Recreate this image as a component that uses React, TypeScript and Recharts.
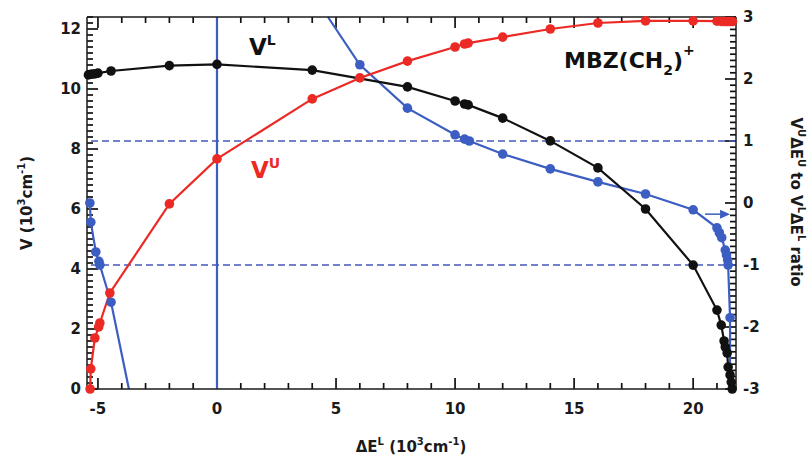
import React from "react";
import { ComposedChart, Line, XAxis, YAxis, ReferenceLine } from "recharts";

const BLACK = "#111111";
const RED = "#ec2a25";
const BLUE = "#3c5ec2";
const DASH = "#4458b8";
const AXIS = "#1a1a1a";
const FONT = "'DejaVu Sans', Verdana, sans-serif";

// V^L, black, left axis (10^3 cm^-1) against ΔE^L
const vlE = [-5.4, -5.3, -5.2, -5.1, -5.0, -4.45, -2, 0, 4, 8, 10, 10.4, 10.55, 12, 14, 16, 18, 20, 21.0, 21.18, 21.3, 21.35, 21.43, 21.47, 21.55, 21.6, 21.64];
const vlV = [10.47, 10.49, 10.5, 10.51, 10.53, 10.6, 10.78, 10.82, 10.63, 10.07, 9.6, 9.5, 9.47, 9.03, 8.27, 7.37, 6.0, 4.13, 2.63, 2.13, 1.6, 1.4, 1.2, 0.73, 0.47, 0.23, 0];

// V^U, red, left axis
const vuE = [-5.33, -5.3, -5.13, -4.97, -4.92, -4.5, -2, 0, 4, 6, 8, 10, 10.4, 10.55, 12, 14, 16, 18, 20, 21.0, 21.2, 21.35, 21.45, 21.55, 21.65];
const vuV = [0, 0.67, 1.7, 2.07, 2.2, 3.2, 6.17, 7.67, 9.67, 10.37, 10.93, 11.4, 11.5, 11.53, 11.73, 12.0, 12.2, 12.27, 12.27, 12.26, 12.25, 12.25, 12.25, 12.25, 12.25];

// ratio, blue, right axis. two branches; the last / first point is where the line leaves the frame
const ratioLoE = [-5.34, -5.3, -5.09, -4.96, -4.92, -4.45, -3.7];
const ratioLoR = [0.0, -0.31, -0.79, -0.94, -1.0, -1.6, -3];
const ratioHiE = [4.66, 6, 8, 10, 10.4, 10.6, 12, 14, 16, 18, 20, 21.0, 21.1, 21.2, 21.35, 21.4, 21.45, 21.47, 21.55, 21.55];
const ratioHiR = [3, 2.23, 1.53, 1.1, 1.03, 1.0, 0.79, 0.55, 0.34, 0.145, -0.11, -0.4, -0.48, -0.56, -0.76, -0.84, -0.92, -1.0, -1.85, -3];

const xMajor = [-5, 0, 5, 10, 15, 20];
const leftMajor = [0, 2, 4, 6, 8, 10, 12];
const rightMajor = [-3, -2, -1, 0, 1, 2, 3];

const range = (a: number, b: number, step: number) => {
  const out: number[] = [];
  for (let i = 0; a + i * step <= b + 1e-9; i++) out.push(Math.round((a + i * step) * 100) / 100);
  return out;
};
const xMinor = range(-5, 21, 1);
const leftMinor = range(0, 12.4, 0.2);
const rightMinor = range(-3, 3, 0.1);

const pts = (xs: number[], ys: number[], edges: number[] = []) =>
  xs.map((x, i) => ({ x, y: ys[i], edge: edges.includes(i) }));

const vlData = pts(vlE, vlV);
const vuData = pts(vuE, vuV);
const ratioLo = pts(ratioLoE, ratioLoR, [ratioLoE.length - 1]);
const ratioHi = pts(ratioHiE, ratioHiR, [0, ratioHiE.length - 1]);

const dot = (color: string) => (p: any) =>
  p.payload.edge ? (
    <g key={`e${p.index}`} />
  ) : (
    <circle key={`d${p.index}`} cx={p.cx} cy={p.cy} r={4.8} fill={color} />
  );

const W = 812;
const H = 457;
const M = { top: 17, right: 76, bottom: 68, left: 87 };
const X_DOMAIN: [number, number] = [-5.46, 21.8];
const L_DOMAIN: [number, number] = [0, 12.4];
const R_DOMAIN: [number, number] = [-3, 3];
// data units per pixel, used to give the inward tick marks a pixel length
const perPxX = (X_DOMAIN[1] - X_DOMAIN[0]) / (W - M.left - M.right);
const perPxL = (L_DOMAIN[1] - L_DOMAIN[0]) / (H - M.top - M.bottom);
const MAJ = 11;
const MIN = 6;

const label = { fontFamily: FONT, fontWeight: 700, fontSize: 15, fill: AXIS };
const axisStroke = { stroke: AXIS, strokeWidth: 1.5 };

const BottomLabel = (p: any) => (
  <text x={p.x} y={p.y + 25} textAnchor="middle" {...label}>
    {p.payload.value}
  </text>
);
const LeftLabel = (p: any) => (
  <text x={p.x - 6} y={p.y} dy="0.36em" textAnchor="end" {...label}>
    {p.payload.value}
  </text>
);
const RightLabel = (p: any) => (
  <text x={p.x + 7} y={p.y} dy="0.36em" textAnchor="start" {...label}>
    {p.payload.value}
  </text>
);

const Arrow = (p: any) => {
  const { x1, y1, x2, y2 } = p;
  return (
    <g>
      <line x1={x1} y1={y1} x2={x2 - 8} y2={y2} stroke={BLUE} strokeWidth={1.5} />
      <polygon points={`${x2},${y2} ${x2 - 10},${y2 - 4.5} ${x2 - 10},${y2 + 4.5}`} fill={BLUE} />
    </g>
  );
};

const tickMark = (key: string, yAxisId: string, a: { x: number; y: number }, b: { x: number; y: number }) => (
  <ReferenceLine key={key} xAxisId="b" yAxisId={yAxisId} segment={[a, b]} ifOverflow="visible" stroke="#111" strokeWidth={1.7} />
);

const App: React.FC = () => {
  const [x0, x1] = X_DOMAIN;
  const [l0, l1] = L_DOMAIN;
  return (
    <div style={{ position: "absolute", left: 0, top: 0, width: W, height: H, background: "#fff" }}>
      <ComposedChart width={W} height={H} margin={{ top: 0, right: 0, bottom: 0, left: 0 }}>
        <XAxis xAxisId="b" type="number" dataKey="x" domain={X_DOMAIN} ticks={xMajor} interval={0} height={M.bottom}
          tickSize={0} tickMargin={0} tickLine={false} axisLine={axisStroke} tick={BottomLabel} />
        <XAxis xAxisId="t" orientation="top" type="number" dataKey="x" domain={X_DOMAIN} ticks={xMajor} interval={0} height={M.top}
          tickSize={0} tickLine={false} axisLine={axisStroke} tick={false} />
        <YAxis yAxisId="l" type="number" domain={L_DOMAIN} ticks={leftMajor} interval={0} width={M.left}
          tickSize={0} tickMargin={0} tickLine={false} axisLine={axisStroke} tick={LeftLabel} />
        <YAxis yAxisId="r" orientation="right" type="number" domain={R_DOMAIN} ticks={rightMajor} interval={0} width={M.right}
          tickSize={0} tickMargin={0} tickLine={false} axisLine={axisStroke} tick={RightLabel} />

        {/* inward tick marks on all four sides */}
        {xMinor.map((v) => {
          const len = (xMajor.includes(v) ? MAJ : MIN) * perPxL;
          return [
            tickMark(`b${v}`, "l", { x: v, y: l0 }, { x: v, y: l0 + len }),
            tickMark(`t${v}`, "l", { x: v, y: l1 }, { x: v, y: l1 - len }),
          ];
        })}
        {leftMinor.map((v) =>
          tickMark(`l${v}`, "l", { x: x0, y: v }, { x: x0 + (leftMajor.includes(v) ? MAJ : MIN) * perPxX, y: v })
        )}
        {rightMinor.map((v) =>
          tickMark(`r${v}`, "r", { x: x1, y: v }, { x: x1 - (rightMajor.includes(v) ? MAJ : MIN) * perPxX, y: v })
        )}

        <ReferenceLine xAxisId="b" yAxisId="r" y={1} stroke={DASH} strokeWidth={1.3} strokeDasharray="7 4" />
        <ReferenceLine xAxisId="b" yAxisId="r" y={-1} stroke={DASH} strokeWidth={1.3} strokeDasharray="7 4" />
        <ReferenceLine xAxisId="b" yAxisId="l" x={0} stroke={BLUE} strokeWidth={2.2} />

        <Line xAxisId="b" yAxisId="r" data={ratioLo} dataKey="y" type="linear" stroke={BLUE} strokeWidth={2.2} dot={dot(BLUE)} activeDot={false} isAnimationActive={false} />
        <Line xAxisId="b" yAxisId="r" data={ratioHi} dataKey="y" type="linear" stroke={BLUE} strokeWidth={2.2} dot={dot(BLUE)} activeDot={false} isAnimationActive={false} />
        <Line xAxisId="b" yAxisId="l" data={vuData} dataKey="y" type="linear" stroke={RED} strokeWidth={2.2} dot={dot(RED)} activeDot={false} isAnimationActive={false} />
        <Line xAxisId="b" yAxisId="l" data={vlData} dataKey="y" type="linear" stroke={BLACK} strokeWidth={2.2} dot={dot(BLACK)} activeDot={false} isAnimationActive={false} />

        <ReferenceLine
          xAxisId="b"
          yAxisId="r"
          segment={[{ x: 20.5, y: -0.18 }, { x: 21.55, y: -0.18 }]}
          shape={Arrow}
        />
      </ComposedChart>

      <svg width={W} height={H} style={{ position: "absolute", left: 0, top: 0, pointerEvents: "none" }}>
        <g fontFamily={FONT} fontWeight={700}>
          <text x={249} y={55} fontSize={23} fill={BLACK}>
            V<tspan fontSize={14} dy={-10}>L</tspan>
          </text>
          <text x={251} y={178} fontSize={23} fill={RED}>
            V<tspan fontSize={14} dy={-10}>U</tspan>
          </text>
          <text x={564} y={68} fontSize={22} fill={BLACK}>
            MBZ(CH<tspan fontSize={14} dy={7}>2</tspan>
            <tspan dy={-7}>)</tspan>
            <tspan fontSize={14} dy={-13}>+</tspan>
          </text>

          <text x={411} y={452} fontSize={15} fill={AXIS} textAnchor="middle">
            ΔE<tspan fontSize={10} dy={-7}>L</tspan>
            <tspan dy={7}> (10</tspan>
            <tspan fontSize={10} dy={-7}>3</tspan>
            <tspan dy={7}>cm</tspan>
            <tspan fontSize={10} dy={-7}>-1</tspan>
            <tspan dy={7}>)</tspan>
          </text>

          <text transform="translate(32,203) rotate(-90)" fontSize={15} fill={AXIS} textAnchor="middle">
            V (10<tspan fontSize={10} dy={-7}>3</tspan>
            <tspan dy={7}>cm</tspan>
            <tspan fontSize={10} dy={-7}>-1</tspan>
            <tspan dy={7}>)</tspan>
          </text>

          <text transform="translate(791,202) rotate(90)" fontSize={15} fill={AXIS} textAnchor="middle">
            V<tspan fontSize={10} dy={-7}>U</tspan>
            <tspan dy={7}>ΔE</tspan>
            <tspan fontSize={10} dy={-7}>U</tspan>
            <tspan dy={7}> to V</tspan>
            <tspan fontSize={10} dy={-7}>L</tspan>
            <tspan dy={7}>ΔE</tspan>
            <tspan fontSize={10} dy={-7}>L</tspan>
            <tspan dy={7}> ratio</tspan>
          </text>
        </g>
      </svg>
    </div>
  );
};

export default App;
